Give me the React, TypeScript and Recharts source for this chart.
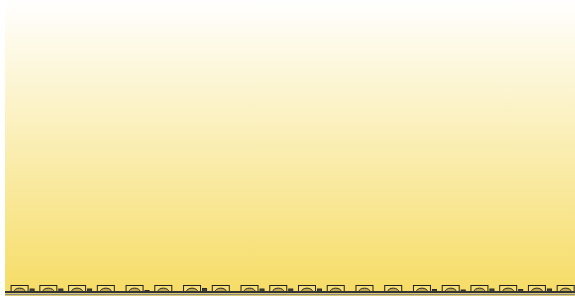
import { BarChart, Bar, XAxis, YAxis, CartesianGrid, ReferenceLine } from "recharts";

const slots = ["1", "2", "3", "4", "5", "6", "7", "8", "9", "10", "11", "12", "13", "14", "15", "16", "17", "18", "19", "20"];
const wagons = [7, 7, 7, 7, 7, 7, 7, 7, 7, 7, 7, 7, 7, 7, 7, 7, 7, 7, 7, 7];
const couplers = [3.5, 3.5, 3.5, 0, 2, 0, 4, 0, 3.5, 3.5, 3.5, 0, 0, 0, 3, 2.5, 3.5, 3, 3.5, 3.5];

const data = slots.map((slot, i) => ({ slot, wagon: wagons[i], coupler: couplers[i] }));

/** outlined box with a half-round hump sitting on the baseline */
function WagonShape(props: any) {
  const { x, y, width, height } = props;
  if (!height || height <= 0) return null;
  const cx = x + width / 2;
  const by = y + height;
  const r = width * 0.32;
  return (
    <g>
      <rect x={x + 0.5} y={y + 0.5} width={width - 1} height={height - 1} fill="#f6de72" stroke="#222" strokeWidth={1} />
      <path
        d={`M${cx - r},${by} A${r},${height * 0.55} 0 0 1 ${cx + r},${by} Z`}
        fill="#bfa84f"
        stroke="#2a2a2a"
        strokeWidth={1}
      />
    </g>
  );
}

function CouplerShape(props: any) {
  const { x, y, width, height } = props;
  if (!height || height <= 0) return null;
  return <rect x={x + 0.5} y={y + 0.5} width={width - 1} height={height - 0.5} fill="#45453f" stroke="#2a2a2a" strokeWidth={1} />;
}

export default function App() {
  return (
    <div style={{ position: "absolute", left: 0, top: 0, width: 575, height: 299, overflow: "hidden", background: "#fff" }}>
      <BarChart
        width={600}
        height={299}
        data={data}
        margin={{ top: 0, right: 0, left: 5, bottom: 3 }}
        barGap={1}
      >
        <defs>
          <linearGradient id="bgGrad" x1="0" y1="0" x2="0" y2="1">
            <stop offset="0%" stopColor="#ffffff" />
            <stop offset="100%" stopColor="#f6dc64" />
          </linearGradient>
        </defs>
        <CartesianGrid fill="url(#bgGrad)" horizontal={false} vertical={false} />
        <XAxis dataKey="slot" hide padding={{ left: 3.6, right: 16.6 }} />
        <YAxis hide domain={[-4, 292]} allowDataOverflow />
        <Bar dataKey="wagon" barSize={18} shape={<WagonShape />} isAnimationActive={false} />
        <Bar dataKey="coupler" barSize={5} shape={<CouplerShape />} isAnimationActive={false} />
        <ReferenceLine y={0} stroke="#333" strokeWidth={2} />
        <ReferenceLine y={-2.5} stroke="#8a8a8a" strokeWidth={1.5} />
      </BarChart>
    </div>
  );
}
